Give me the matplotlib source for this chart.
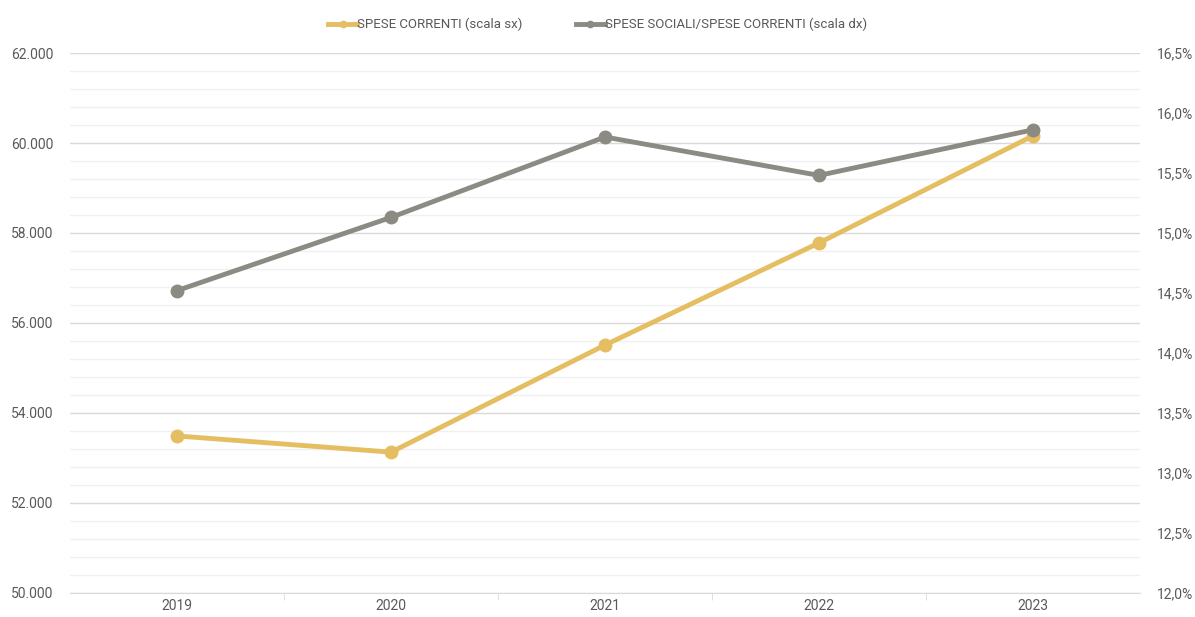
import matplotlib.pyplot as plt
from matplotlib.ticker import FuncFormatter, MultipleLocator

# data
years = ["2019", "2020", "2021", "2022", "2023"]
spese_correnti = [53490, 53130, 55510, 57780, 60160]
quota_sociali = [14.52, 15.13, 15.80, 15.48, 15.86]

yellow = "#E5BE62"
grey = "#8B8B83"
label_col = "#595959"

plt.rcParams["font.family"] = ["Roboto", "DejaVu Sans"]

fig = plt.figure(figsize=(11.95, 6.17), dpi=100)
ax = fig.add_axes([0.0586, 0.0389, 0.8954, 0.8752])
ax2 = ax.twinx()

x = list(range(len(years)))

# left axis: spese correnti
ax.set_ylim(50000, 62000)
ax.set_xlim(-0.5, len(years) - 0.5)
ax.yaxis.set_major_locator(MultipleLocator(2000))
ax.yaxis.set_minor_locator(MultipleLocator(400))
ax.grid(which="major", axis="y", color="#D9D9D9", linewidth=1.0)
ax.grid(which="minor", axis="y", color="#F0F0F0", linewidth=1.0)
ax.set_axisbelow(True)
ax.yaxis.set_major_formatter(FuncFormatter(lambda v, p: f"{v:,.0f}".replace(",", ".")))

ax.set_xticks(x)
ax.set_xticklabels(years)
ax.set_xticks([i + 0.5 for i in x[:-1]], minor=True)
ax.tick_params(axis="x", which="major", length=0, pad=4, labelsize=10, labelcolor=label_col)
ax.tick_params(axis="x", which="minor", length=5, color="#D9D9D9")
ax.tick_params(axis="y", which="both", length=0, pad=12, labelsize=10, labelcolor=label_col)

for s in ["top", "right", "left"]:
    ax.spines[s].set_visible(False)
ax.spines["bottom"].set_color("#D9D9D9")

# right axis: spese sociali / spese correnti
ax2.set_ylim(12.0, 16.5)
ax2.yaxis.set_major_locator(MultipleLocator(0.5))
ax2.yaxis.set_major_formatter(FuncFormatter(lambda v, p: f"{v:.1f}%".replace(".", ",")))
ax2.tick_params(axis="y", length=0, pad=12, labelsize=10, labelcolor=label_col)
for s in ["top", "right", "left", "bottom"]:
    ax2.spines[s].set_visible(False)

line1, = ax.plot(x, spese_correnti, color=yellow, linewidth=3.5, marker="o",
                 markersize=9, label="SPESE CORRENTI (scala sx)", zorder=3)
line2, = ax2.plot(x, quota_sociali, color=grey, linewidth=3.5, marker="o",
                  markersize=9, label="SPESE SOCIALI/SPESE CORRENTI (scala dx)", zorder=3)

fig.legend([line1, line2], [line1.get_label(), line2.get_label()],
           loc="upper center", bbox_to_anchor=(0.5, 0.99), ncol=2, frameon=False,
           fontsize=9.5, labelcolor=label_col, handlelength=2.2, handletextpad=0.0,
           columnspacing=4, markerscale=0.5)

fig.savefig("out.png", dpi=100, facecolor="white")
